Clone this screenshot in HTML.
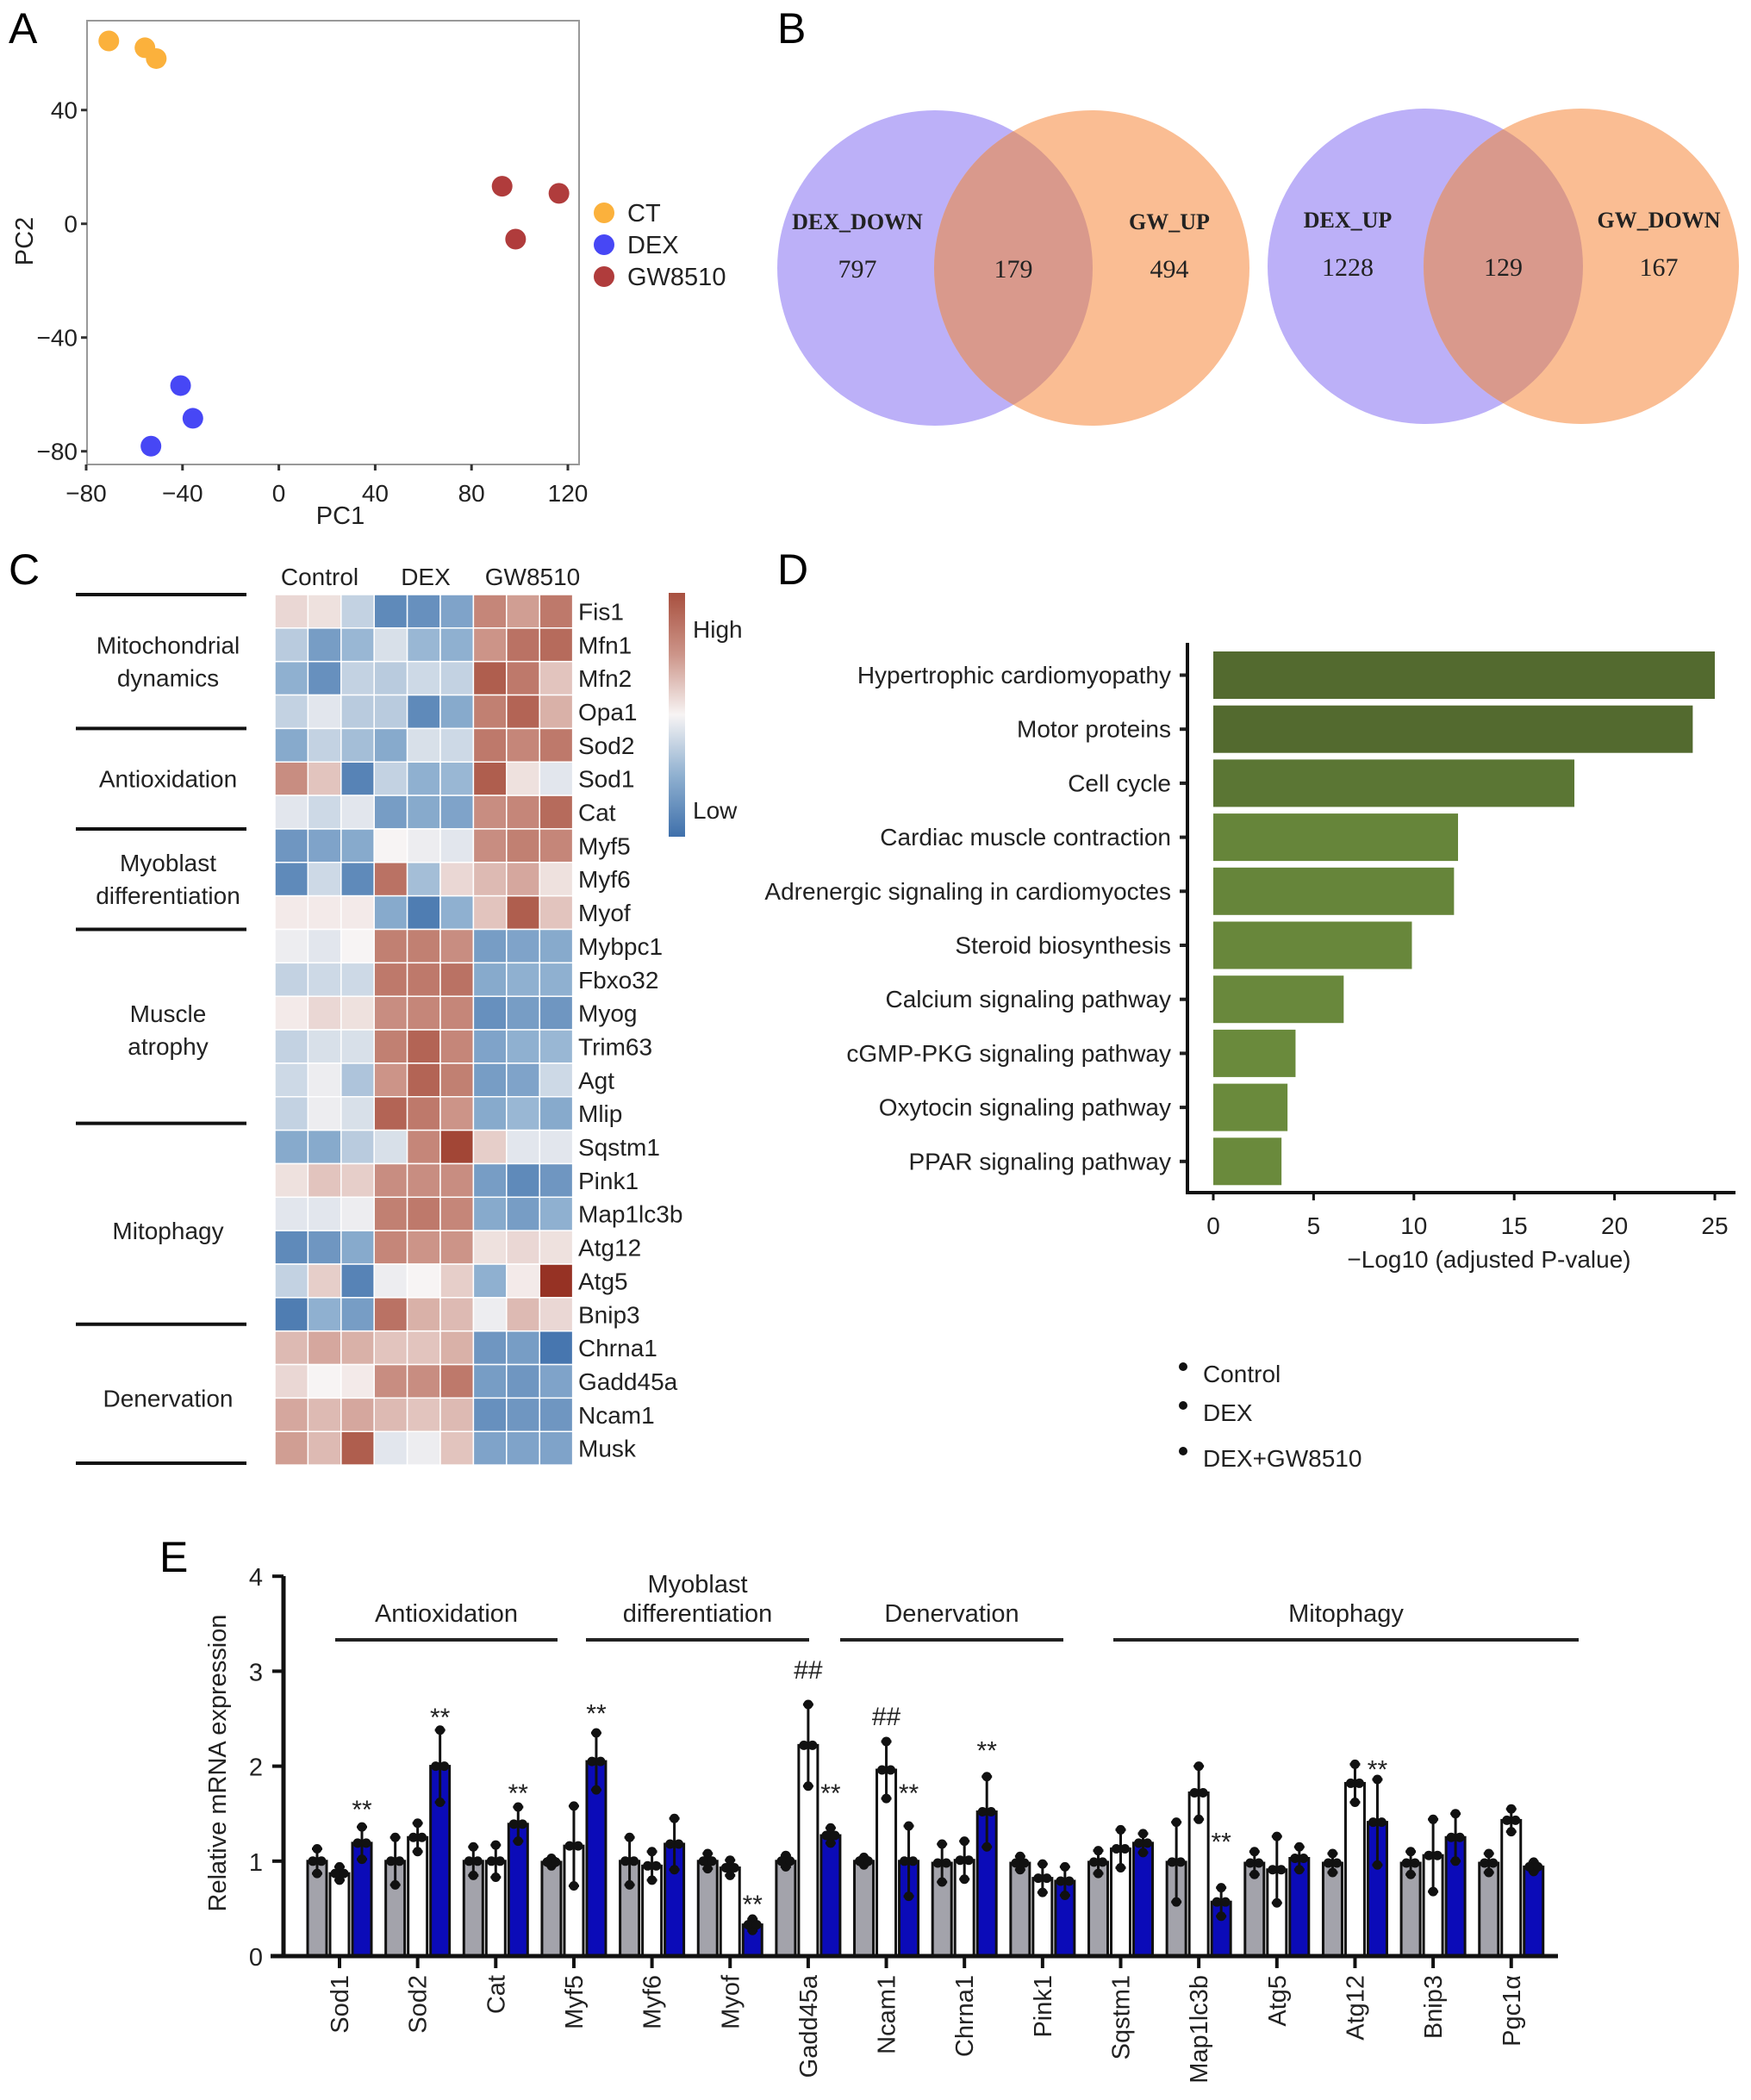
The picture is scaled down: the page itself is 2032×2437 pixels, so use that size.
<!DOCTYPE html>
<html><head><meta charset="utf-8"><style>
html,body{margin:0;padding:0;background:#fff;}
svg{display:block;font-family:"Liberation Sans",sans-serif;}
</style></head><body>
<svg id="fig" width="2032" height="2437" viewBox="0 0 2032 2437" xmlns="http://www.w3.org/2000/svg">
<defs>
<linearGradient id="cbar" x1="0" y1="0" x2="0" y2="1">
<stop offset="0" stop-color="#a8503f"/><stop offset="0.25" stop-color="#cc9488"/><stop offset="0.5" stop-color="#f7f4f4"/><stop offset="0.75" stop-color="#8fb0d0"/><stop offset="1" stop-color="#3f70ab"/>
</linearGradient>
</defs>
<text x="10" y="50" font-size="50">A</text>
<text x="902" y="50" font-size="50">B</text>
<text x="10" y="678" font-size="50">C</text>
<text x="902" y="678" font-size="50">D</text>
<text x="185" y="1824" font-size="50">E</text>

<g id="pca"></g>
<g id="venn"></g>
<g id="heat"></g>
<g id="kegg"></g>
<g id="qpcr"></g>
</svg>
<script>
// ---------- PCA data ----------
const pcaGroups = ["CT","DEX","GW8510"];
const pcaColors = ["#fbb13c","#4747f5","#b03c3c"];
const pcaX = [-70.6,-55.6,-50.9,-40.8,-35.7,-53.1,92.7,116.3,98.3];
const pcaY = [64.3,61.9,58.1,-56.9,-68.4,-78.2,13.2,10.7,-5.4];
const pcaGroupOf = [0,0,0,1,1,1,2,2,2];
const pcaXTicks = [-80,-40,0,40,80,120];
const pcaYTicks = [40,0,-40,-80];

// ---------- Venn data ----------
const vennLabelsL = ["DEX_DOWN","DEX_UP"];
const vennLabelsR = ["GW_UP","GW_DOWN"];
const vennOnlyL = [797,1228];
const vennBoth = [179,129];
const vennOnlyR = [494,167];

// ---------- Heatmap data ----------
const heatCols = ["Control","DEX","GW8510"];
const heatGenes = ["Fis1","Mfn1","Mfn2","Opa1","Sod2","Sod1","Cat","Myf5","Myf6","Myof","Mybpc1","Fbxo32","Myog","Trim63","Agt","Mlip","Sqstm1","Pink1","Map1lc3b","Atg12","Atg5","Bnip3","Chrna1","Gadd45a","Ncam1","Musk"];
const heatVals = [
[0.3,0.2,-0.5,-1.6,-1.5,-1.2,1.2,0.9,1.4],
[-0.6,-1.3,-0.9,-0.3,-0.9,-1.0,1.0,1.5,1.6],
[-1.0,-1.5,-0.5,-0.6,-0.4,-0.5,1.8,1.4,0.5],
[-0.5,-0.2,-0.6,-0.6,-1.6,-1.1,1.3,1.7,0.7],
[-1.1,-0.5,-0.8,-1.1,-0.3,-0.4,1.4,1.2,1.4],
[1.1,0.5,-1.7,-0.5,-1.0,-0.9,1.8,0.2,-0.2],
[-0.2,-0.4,-0.2,-1.3,-1.1,-1.2,1.1,1.2,1.6],
[-1.4,-1.2,-1.1,0,-0.1,-0.2,1.1,1.3,1.2],
[-1.6,-0.4,-1.6,1.5,-0.8,0.3,0.6,0.8,0.2],
[0.1,0.1,0.1,-1.1,-1.8,-1.0,0.5,1.8,0.5],
[-0.1,-0.2,0,1.3,1.3,1.1,-1.3,-1.2,-1.1],
[-0.5,-0.4,-0.4,1.4,1.4,1.5,-1.1,-1.0,-1.0],
[0.1,0.3,0.2,1.1,1.2,1.2,-1.5,-1.3,-1.4],
[-0.5,-0.3,-0.3,1.3,1.7,1.2,-1.2,-1.0,-0.9],
[-0.4,-0.1,-0.7,1.0,1.7,1.3,-1.3,-1.2,-0.4],
[-0.5,-0.1,-0.3,1.7,1.4,1.0,-1.1,-0.9,-1.1],
[-1.1,-1.1,-0.6,-0.3,1.2,2.2,0.4,-0.2,-0.2],
[0.2,0.5,0.4,1.1,1.1,1.1,-1.3,-1.6,-1.4],
[-0.2,-0.2,-0.1,1.3,1.4,1.2,-1.1,-1.3,-1.0],
[-1.6,-1.4,-1.1,1.2,1.0,1.0,0.2,0.3,0.2],
[-0.5,0.4,-1.7,-0.1,0,0.4,-1.0,0.1,2.6],
[-1.8,-1.0,-1.3,1.5,0.7,0.6,-0.1,0.6,0.3],
[0.6,0.8,0.7,0.5,0.5,0.7,-1.4,-1.3,-1.9],
[0.3,0,0.1,1.1,1.1,1.4,-1.3,-1.4,-1.2],
[0.8,0.6,0.8,0.6,0.5,0.6,-1.5,-1.4,-1.4],
[0.9,0.6,1.8,-0.2,-0.1,0.5,-1.2,-1.2,-1.2]];
const heatGroupNames = [["Mitochondrial","dynamics"],["Antioxidation"],["Myoblast","differentiation"],["Muscle","atrophy"],["Mitophagy"],["Denervation"]];
const heatGroupSizes = [4,3,3,6,6,4];

// ---------- KEGG data ----------
const keggTerms = ["Hypertrophic cardiomyopathy","Motor proteins","Cell cycle","Cardiac muscle contraction","Adrenergic signaling in cardiomyoctes","Steroid biosynthesis","Calcium signaling pathway","cGMP-PKG signaling pathway","Oxytocin signaling pathway","PPAR signaling pathway"];
const keggVals = [25.0,23.9,18.0,12.2,12.0,9.9,6.5,4.1,3.7,3.4];
const keggTicks = [0,5,10,15,20,25];

// ---------- qPCR data ----------
const qGenes = ["Sod1","Sod2","Cat","Myf5","Myf6","Myof","Gadd45a","Ncam1","Chrna1","Pink1","Sqstm1","Map1lc3b","Atg5","Atg12","Bnip3","Pgc1\u03b1"];
const qCtrl = [1.0,1.0,1.0,0.99,1.0,1.0,1.0,1.0,0.98,0.98,0.99,0.99,0.98,0.98,0.98,0.98];
const qDex = [0.87,1.25,1.0,1.16,0.95,0.93,2.22,1.96,1.01,0.82,1.13,1.72,0.91,1.82,1.06,1.43];
const qGw = [1.19,2.0,1.39,2.05,1.18,0.33,1.27,1.0,1.52,0.79,1.19,0.57,1.03,1.41,1.25,0.94];
const qCtrlSd = [0.13,0.25,0.15,0.04,0.25,0.08,0.06,0.04,0.2,0.07,0.12,0.42,0.12,0.1,0.12,0.1];
const qDexSd = [0.07,0.15,0.17,0.42,0.15,0.08,0.43,0.3,0.2,0.15,0.2,0.28,0.35,0.2,0.38,0.12];
const qGwSd = [0.17,0.38,0.18,0.3,0.27,0.06,0.08,0.37,0.37,0.15,0.1,0.15,0.12,0.45,0.25,0.05];
const qTicks = [0,1,2,3,4];
const qAnnGene = [0,1,2,3,5,6,6,7,7,8,11,13];
const qAnnBar = [2,2,2,2,2,1,2,1,2,2,2,2];
const qAnnText = ["**","**","**","**","**","##","**","##","**","**","**","**"];
const qAnnVal = [1.58,2.55,1.75,2.59,0.58,3.05,1.75,2.56,1.75,2.2,1.24,2.0];
const qSections = [["Antioxidation"],["Myoblast","differentiation"],["Denervation"],["Mitophagy"]];

const NS="http://www.w3.org/2000/svg";
function mk(parent,tag,attrs,text){const e=document.createElementNS(NS,tag);for(const k in attrs)e.setAttribute(k,attrs[k]);if(text!==undefined)e.textContent=text;parent.appendChild(e);return e;}

// ===== PCA =====
(function(){
const g=document.getElementById('pca');
const px=v=>100+(v+80)*2.795, py=v=>259.7-v*3.3;
const box=mk(g,'rect',{x:101,y:24,width:571,height:515,fill:'none',stroke:'#999','stroke-width':2});


pcaXTicks.forEach(t=>{
 const l=mk(g,'line',{x1:px(t),x2:px(t),y1:539,y2:546,stroke:'#333','stroke-width':3});
 
 
 const tx=mk(g,'text',{x:px(t),y:582,'font-size':28,'text-anchor':'middle',fill:'#222'},t<0?'\u2212'+(-t):t);
 
 
});
pcaYTicks.forEach(t=>{
 const l=mk(g,'line',{x1:94,x2:101,y1:py(t),y2:py(t),stroke:'#333','stroke-width':3});
 
 
 const tx=mk(g,'text',{x:90,y:py(t)+10,'font-size':28,'text-anchor':'end',fill:'#222'},t<0?'\u2212'+(-t):t);
 
 
});
const xt=mk(g,'text',{x:395,y:608,'font-size':29,'text-anchor':'middle',fill:'#222'},'PC1');


const yt=mk(g,'text',{x:0,y:0,'font-size':29,'text-anchor':'middle',fill:'#222',transform:'translate(38,280) rotate(-90)'},'PC2');


pcaX.forEach((v,i)=>{
 const c=mk(g,'circle',{cx:px(v),cy:py(pcaY[i]),r:12,fill:pcaColors[pcaGroupOf[i]]});
 
 
});
pcaGroups.forEach((n,i)=>{
 const y=247+i*37;
 const c=mk(g,'circle',{cx:701,cy:y,r:12,fill:pcaColors[i]});
 
 
 const t=mk(g,'text',{x:728,y:y+10,'font-size':29,fill:'#222'},n);
 
 
});
})();

// ===== Venn =====
(function(){
const g=document.getElementById('venn');
const cxL=[1085,1654], cxR=[1267,1835], cy=[311,309], r=183;
for(let i=0;i<2;i++){
 const a=mk(g,'circle',{cx:cxL[i],cy:cy[i],r:r,fill:'#bcb0f8'});
 
 
 const b=mk(g,'circle',{cx:cxR[i],cy:cy[i],r:r,fill:'#fabd93'});
 
 
 const cp=mk(g,'clipPath',{id:'vc'+i});
 mk(cp,'circle',{cx:cxL[i],cy:cy[i],r:r});
 const o=mk(g,'circle',{cx:cxR[i],cy:cy[i],r:r,fill:'#d9998c','clip-path':'url(#vc'+i+')'});
 
 
 const ff='"Liberation Serif",serif';
 const cxs=[cxL[i]-90,(cxL[i]+cxR[i])/2,cxR[i]+90];
 const l1=mk(g,'text',{x:cxs[0],y:cy[i]-45,'font-size':26,'font-weight':'bold','font-family':ff,'text-anchor':'middle',fill:'#222'},vennLabelsL[i]);
 
 
 const l2=mk(g,'text',{x:cxs[2],y:cy[i]-45,'font-size':26,'font-weight':'bold','font-family':ff,'text-anchor':'middle',fill:'#222'},vennLabelsR[i]);
 
 
 [vennOnlyL[i],vennBoth[i],vennOnlyR[i]].forEach((v,k)=>{
  const t=mk(g,'text',{x:cxs[k],y:cy[i]+11,'font-size':30,'font-family':ff,'text-anchor':'middle',fill:'#222'},v);
  
  
 });
}
})();

// ===== Heatmap =====
(function(){
const g=document.getElementById('heat');
const x0=319,y0=690,cw=38.4,rh=38.85;
const stops=[[-2.6,[52,100,160]],[-2,[63,112,171]],[-1,[143,176,208]],[0,[247,244,244]],[1,[204,148,136]],[2,[168,80,63]],[2.6,[150,50,36]]];
function col(v){v=Math.max(-2.6,Math.min(2.6,v));for(let i=0;i<stops.length-1;i++){const a=stops[i],b=stops[i+1];if(v<=b[0]){const t=(v-a[0])/(b[0]-a[0]);const c=a[1].map((q,k)=>Math.round(q+(b[1][k]-q)*t));return 'rgb('+c.join(',')+')';}}return 'rgb(150,50,36)';}
heatVals.forEach((row,r)=>{
 row.forEach((v,c)=>{
  const e=mk(g,'rect',{x:x0+c*cw,y:y0+r*rh,width:cw,height:rh,fill:col(v),stroke:'#fff','stroke-width':1.5});
  
  
 });
 const t=mk(g,'text',{x:671,y:y0+r*rh+rh/2+10,'font-size':28,fill:'#222'},heatGenes[r]);
 
 
});
const colX=[371,494,618];
heatCols.forEach((n,i)=>{
 const t=mk(g,'text',{x:colX[i],y:679,'font-size':28,'text-anchor':'middle',fill:'#222'},n);
 
 
});
let acc=0;
const sep0=mk(g,'line',{x1:88,x2:286,y1:y0,y2:y0,stroke:'#111','stroke-width':4});


heatGroupSizes.forEach((s,i)=>{
 const top=y0+acc*rh; acc+=s; const bot=y0+acc*rh;
 const ly=(i===5)?1698:bot-(i===3||i===4?8:0);
 const l=mk(g,'line',{x1:88,x2:286,y1:ly,y2:ly,stroke:'#111','stroke-width':4});
 
 
 const lines=heatGroupNames[i];const mid=(top+bot)/2;
 lines.forEach((ln,k)=>{
  const t=mk(g,'text',{x:195,y:mid+10+(k-(lines.length-1)/2)*38,'font-size':28,'text-anchor':'middle',fill:'#222'},ln);
  
  
 });
});
const cb=mk(g,'rect',{x:776,y:688,width:19,height:283,fill:'url(#cbar)'});


const hi=mk(g,'text',{x:804,y:740,'font-size':28,fill:'#222'},'High');


const lo=mk(g,'text',{x:804,y:950,'font-size':28,fill:'#222'},'Low');


})();

// ===== KEGG =====
(function(){
const g=document.getElementById('kegg');
const xs=v=>1408+v*23.28;
const cols=['#536a2f','#536a2f','#5b7634','#66853a','#66853a','#68873b','#69883c','#6a8a3c','#6a8a3c','#6a8a3c'];
keggVals.forEach((v,i)=>{
 const y=756+i*62.7;
 const b=mk(g,'rect',{x:xs(0),y:y,width:xs(v)-xs(0),height:55,fill:cols[i]});
 
 
 const tk=mk(g,'line',{x1:1369,x2:1378,y1:y+27.5,y2:y+27.5,stroke:'#222','stroke-width':4});
 
 
 const t=mk(g,'text',{x:1359,y:y+37,'font-size':28,'text-anchor':'end',fill:'#222'},keggTerms[i]);
 
 
});
const ax=mk(g,'path',{d:'M1378,746 V1384 H2014',fill:'none',stroke:'#111','stroke-width':4});


keggTicks.forEach(t=>{
 const l=mk(g,'line',{x1:xs(t),x2:xs(t),y1:1384,y2:1393,stroke:'#111','stroke-width':3});
 
 
 const tx=mk(g,'text',{x:xs(t),y:1432,'font-size':28,'text-anchor':'middle',fill:'#222'},t);
 
 
});
const ti=mk(g,'text',{x:1728,y:1471,'font-size':28,'text-anchor':'middle',fill:'#222'},'\u2212Log10 (adjusted P-value)');


['Control','DEX','DEX+GW8510'].forEach((n,i)=>{
 const y=[1594,1639,1692][i];
 const d=mk(g,'circle',{cx:1373,cy:y-8,r:5,fill:'#111'});
 
 
 const t=mk(g,'text',{x:1396,y:y+10,'font-size':28,fill:'#222'},n);
 
 
});
})();

// ===== qPCR =====
(function(){
const g=document.getElementById('qpcr');
const ys=v=>2270-v*110.2;
const gx=i=>394+i*90.65;
const off=[-26,0,26], fills=['#a3a3ab','#ffffff','#0b0bb8'];
const means=[qCtrl,qDex,qGw], sds=[qCtrlSd,qDexSd,qGwSd];
// layout (pixel) extents of section brackets
const secX1=[389,680,975,1292], secX2=[647,939,1234,1832];
qGenes.forEach((n,i)=>{
 for(let k=0;k<3;k++){
  const v=means[k][i], cx=gx(i)+off[k];
  const b=mk(g,'rect',{x:cx-11,y:ys(v),width:22,height:ys(0)-ys(v),fill:fills[k],stroke:'#111','stroke-width':3});
  
  
  const sd=sds[k][i];
  const e=mk(g,'path',{d:'M'+cx+','+ys(v-sd)+' V'+ys(v+sd)+' M'+(cx-6)+','+ys(v+sd)+' H'+(cx+6)+' M'+(cx-6)+','+ys(v-sd)+' H'+(cx+6),stroke:'#111','stroke-width':3,fill:'none'});
  
  
  const d=mk(g,'circle',{cx:cx,cy:ys(v+sd),r:5.5,fill:'#111'});
  
  
  const d2=mk(g,'circle',{cx:cx,cy:ys(v-sd),r:5.5,fill:'#111'});
  
  
  const d3=mk(g,'circle',{cx:cx-5,cy:ys(v),r:5.5,fill:'#111'});
  
  
  const d4=mk(g,'circle',{cx:cx+5,cy:ys(v),r:5.5,fill:'#111'});
  
  
 }
 const tk=mk(g,'line',{x1:gx(i),x2:gx(i),y1:2270,y2:2284,stroke:'#111','stroke-width':4});
 
 
 const t=mk(g,'text',{x:0,y:0,'font-size':29,'text-anchor':'end',fill:'#222',transform:'translate('+(gx(i)+10)+',2292) rotate(-90)'},n);
 
 
});
const ax=mk(g,'path',{d:'M329,1829 V2270 M314,2270 H1808',fill:'none',stroke:'#111','stroke-width':5});


qTicks.forEach(t=>{
 const l=mk(g,'line',{x1:316,x2:329,y1:ys(t),y2:ys(t),stroke:'#111','stroke-width':4});
 
 
 const tx=mk(g,'text',{x:305,y:ys(t)+11,'font-size':29,'text-anchor':'end',fill:'#222'},t);
 
 
});
const yt=mk(g,'text',{x:0,y:0,'font-size':29,'text-anchor':'middle',fill:'#222',transform:'translate(262,2046) rotate(-90)'},'Relative mRNA expression');


qAnnText.forEach((s,j)=>{
 const x=gx(qAnnGene[j])+off[qAnnBar[j]];
 const t=mk(g,'text',{x:x,y:ys(qAnnVal[j])+14,'font-size':30,'text-anchor':'middle',fill:'#222'},s);
 
 
});
qSections.forEach((lines,i)=>{
 const x1=secX1[i], x2=secX2[i];
 const l=mk(g,'line',{x1:x1,x2:x2,y1:1903,y2:1903,stroke:'#222','stroke-width':4});
 
 
 lines.forEach((ln,k)=>{
  const t=mk(g,'text',{x:(x1+x2)/2,y:1882-(lines.length-1-k)*34,'font-size':29,'text-anchor':'middle',fill:'#222'},ln);
  
  
 });
});
})();
</script>
</body></html>
